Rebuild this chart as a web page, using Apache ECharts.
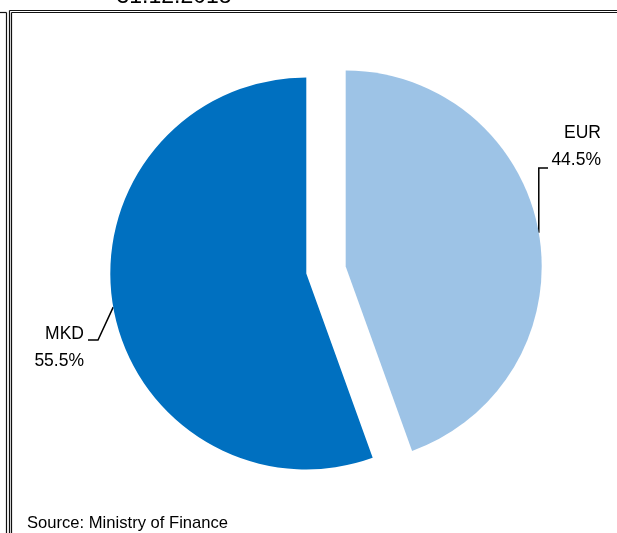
<!DOCTYPE html>
<html>
<head>
<meta charset="utf-8">
<script src="https://cdn.jsdelivr.net/npm/echarts@6/dist/echarts.min.js"></script>
<style>
  html, body { margin: 0; padding: 0; background: #ffffff; }
  #chart { width: 617px; height: 533px; }
</style>
</head>
<body>
<div id="chart"></div>
<script>
// Currency structure of government debt
const categories = ['EUR', 'MKD'];
const shares = [44.5, 55.5];
const sliceColors = ['#9dc3e6', '#0070c0'];
const titleText = '31.12.2018';
const sourceText = 'Source: Ministry of Finance';

const FONT = '"Liberation Sans", Arial, sans-serif';

// Pie geometry: common centre, radius and how far each slice is pulled out
const PIE_CENTER = [326, 270];
const PIE_RADIUS = 196;
const EXPLODE = 20;

// Label anchor spots (right edge of the two-line label, vertical middle)
const labelSpots = {
  EUR: { x: 601, y: 147 },
  MKD: { x: 84, y: 348 }
};

// Each slice is drawn in its own pie series whose centre is pushed out
// along the slice's bisector (clockwise from 12 o'clock).
const total = shares.reduce((s, v) => s + v, 0);
function sliceOffset(i) {
  const before = shares.slice(0, i).reduce((s, v) => s + v, 0);
  const mid = (before + shares[i] / 2) / total * 2 * Math.PI;
  return [EXPLODE * Math.sin(mid), -EXPLODE * Math.cos(mid)];
}

function labelLayoutFor(name) {
  const spot = labelSpots[name];
  return function (params) {
    const a = params.labelLinePoints ? params.labelLinePoints[0] : [0, 0];
    let pts;
    if (name === 'EUR') {
      // vertical riser from the arc, then a short step into the label
      pts = [a, [a[0], spot.y + 21], [spot.x - 53, spot.y + 21]];
    } else {
      pts = [a, [spot.x + 14, spot.y - 8], [spot.x + 4, spot.y - 8]];
    }
    return { x: spot.x, y: spot.y, align: 'right', verticalAlign: 'middle', labelLinePoints: pts };
  };
}

const pieSeries = categories.map((name, i) => {
  const off = sliceOffset(i);
  return {
    type: 'pie',
    name: name,
    center: [PIE_CENTER[0] + off[0], PIE_CENTER[1] + off[1]],
    radius: PIE_RADIUS,
    startAngle: 90,
    clockwise: true,
    avoidLabelOverlap: false,
    silent: true,
    emphasis: { disabled: true },
    itemStyle: { borderWidth: 0 },
    label: {
      show: true,
      position: 'outside',
      formatter: '{b}\n{c}%',
      fontFamily: FONT,
      fontSize: 17.5,
      lineHeight: 27,
      color: '#000',
      align: 'right'
    },
    labelLine: { show: true, lineStyle: { color: '#000', width: 1.5 } },
    labelLayout: labelLayoutFor(name),
    data: categories.map((c, j) => ({
      name: c,
      value: shares[j],
      itemStyle: { color: j === i ? sliceColors[j] : 'rgba(0,0,0,0)' },
      label: { show: j === i },
      labelLine: { show: j === i }
    }))
  };
});

const chart = echarts.init(document.getElementById('chart'), null, { renderer: 'canvas' });

const frameStroke = { stroke: '#111111', lineWidth: 1.2 };
function frameLine(x1, y1, x2, y2) {
  return { type: 'line', silent: true, shape: { x1, y1, x2, y2 }, style: frameStroke };
}

chart.setOption({
  animation: false,
  backgroundColor: '#ffffff',
  graphic: [
    frameLine(0, 12.5, 6.5, 12.5),
    frameLine(6.5, 12.5, 6.5, 533),
    frameLine(9.5, 10.5, 617, 10.5),
    frameLine(9.5, 10.5, 9.5, 533),
    frameLine(11.5, 12.5, 617, 12.5),
    frameLine(11.5, 12.5, 11.5, 533),
    {
      type: 'text', x: 174, y: -3, silent: true,
      style: { text: titleText, font: '23px ' + FONT, fill: '#000', textAlign: 'center', textVerticalAlign: 'middle' }
    },
    {
      type: 'text', x: 27, y: 523, silent: true,
      style: { text: sourceText, font: '16.6px ' + FONT, fill: '#000', textAlign: 'left', textVerticalAlign: 'middle' }
    }
  ],
  series: pieSeries
});
</script>
</body>
</html>
